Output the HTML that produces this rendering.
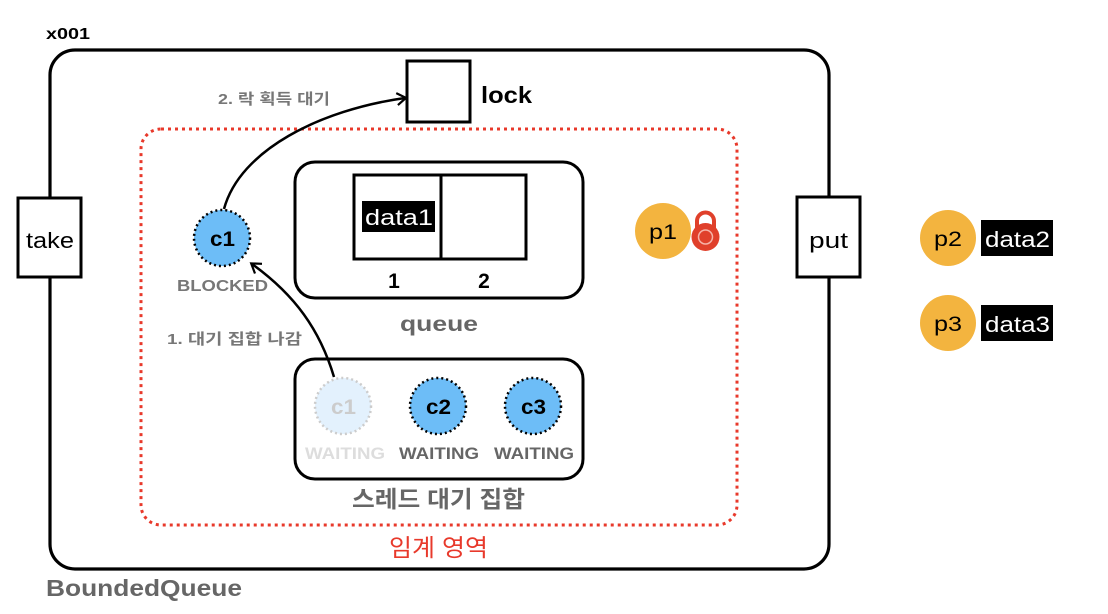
<!DOCTYPE html>
<html><head><meta charset="utf-8"><style>
html,body{margin:0;padding:0;background:#fff;}
svg{display:block;}
text{font-family:"Liberation Sans","Noto Sans CJK KR",sans-serif;}
</style></head><body>
<svg width="1108" height="614" viewBox="0 0 1108 614" xmlns="http://www.w3.org/2000/svg">
<defs>
<marker id="ah" markerWidth="14" markerHeight="14" refX="10" refY="7" orient="auto" markerUnits="userSpaceOnUse">
<path d="M2,1 L11,7 L2,13" fill="none" stroke="#000" stroke-width="2.2"/>
</marker>
</defs>
<text x="46" y="39" font-size="16" font-weight="bold" textLength="44" lengthAdjust="spacingAndGlyphs">x001</text>
<rect x="50" y="50" width="779" height="519" rx="25" fill="none" stroke="#000" stroke-width="3.2"/>
<text x="46" y="596" font-size="23" font-weight="bold" fill="#666" textLength="196" lengthAdjust="spacingAndGlyphs">BoundedQueue</text>

<rect x="407" y="61" width="63" height="61" fill="#fff" stroke="#000" stroke-width="3"/>
<text x="481" y="103" font-size="23" font-weight="bold" textLength="51" lengthAdjust="spacingAndGlyphs">lock</text>

<rect x="141" y="129" width="596" height="396" rx="20" fill="none" stroke="#e8392b" stroke-width="3" stroke-dasharray="3 4"/>

<rect x="295" y="162" width="288" height="136" rx="20" fill="none" stroke="#000" stroke-width="3"/>
<rect x="354" y="175" width="172" height="84" fill="none" stroke="#000" stroke-width="3"/>
<line x1="441" y1="175" x2="441" y2="259" stroke="#000" stroke-width="3"/>
<rect x="362" y="201" width="73" height="31" fill="#000"/>
<text x="365" y="225" font-size="22" fill="#fff" textLength="68" lengthAdjust="spacingAndGlyphs">data1</text>
<text x="394" y="288" font-size="21" font-weight="bold" text-anchor="middle">1</text>
<text x="484" y="288" font-size="21" font-weight="bold" text-anchor="middle">2</text>
<text x="400" y="331" font-size="21" font-weight="bold" fill="#666" textLength="78" lengthAdjust="spacingAndGlyphs">queue</text>

<circle cx="222" cy="238" r="28" fill="#6dbdf7" stroke="#000" stroke-width="2.5" stroke-dasharray="2 3"/>
<text x="210" y="246" font-size="21" font-weight="bold" textLength="25" lengthAdjust="spacingAndGlyphs">c1</text>
<text x="177" y="291" font-size="16" font-weight="bold" fill="#777" textLength="91" lengthAdjust="spacingAndGlyphs">BLOCKED</text>

<path d="M224,209 C240,150 320,110 405,98" fill="none" stroke="#000" stroke-width="2.5" marker-end="url(#ah)"/>
<text x="218" y="104" font-size="15" font-weight="bold" fill="#777" textLength="112" lengthAdjust="spacingAndGlyphs">2. 락 획득 대기</text>
<path d="M334,377 C320,330 295,295 252,264" fill="none" stroke="#000" stroke-width="2.5" marker-end="url(#ah)"/>
<text x="167" y="344" font-size="15" font-weight="bold" fill="#777" textLength="135" lengthAdjust="spacingAndGlyphs">1.  대기 집합 나감</text>

<rect x="295" y="359" width="288" height="120" rx="20" fill="none" stroke="#000" stroke-width="3"/>
<circle cx="343" cy="406" r="28" fill="#e3f1fd" stroke="#ccc" stroke-width="2.5" stroke-dasharray="2 3"/>
<text x="331" y="414" font-size="21" font-weight="bold" fill="#ccc" textLength="25" lengthAdjust="spacingAndGlyphs">c1</text>
<circle cx="438" cy="406" r="28" fill="#6dbdf7" stroke="#000" stroke-width="2.5" stroke-dasharray="2 3"/>
<text x="426" y="414" font-size="21" font-weight="bold" textLength="25" lengthAdjust="spacingAndGlyphs">c2</text>
<circle cx="533" cy="406" r="28" fill="#6dbdf7" stroke="#000" stroke-width="2.5" stroke-dasharray="2 3"/>
<text x="521" y="414" font-size="21" font-weight="bold" textLength="25" lengthAdjust="spacingAndGlyphs">c3</text>
<text x="305" y="459" font-size="17" font-weight="bold" fill="#ddd" textLength="80" lengthAdjust="spacingAndGlyphs">WAITING</text>
<text x="399" y="459" font-size="17" font-weight="bold" fill="#666" textLength="80" lengthAdjust="spacingAndGlyphs">WAITING</text>
<text x="494" y="459" font-size="17" font-weight="bold" fill="#666" textLength="80" lengthAdjust="spacingAndGlyphs">WAITING</text>
<text x="352" y="507" font-size="23" font-weight="bold" fill="#666" textLength="173" lengthAdjust="spacingAndGlyphs">스레드 대기 집합</text>
<text x="389" y="556" font-size="24" fill="#e8392b" textLength="99" lengthAdjust="spacingAndGlyphs">임계 영역</text>

<rect x="18" y="198" width="63" height="79" fill="#fff" stroke="#000" stroke-width="3"/>
<text x="26" y="248" font-size="22" textLength="48" lengthAdjust="spacingAndGlyphs">take</text>
<rect x="797" y="197" width="63" height="80" fill="#fff" stroke="#000" stroke-width="3"/>
<text x="809" y="248" font-size="22" textLength="39" lengthAdjust="spacingAndGlyphs">put</text>

<circle cx="663" cy="231" r="28" fill="#f3b43f"/>
<text x="649" y="239" font-size="21" textLength="28" lengthAdjust="spacingAndGlyphs">p1</text>
<path d="M697,228 V221 a8.5,8.5 0 0 1 17,0 V228" fill="none" stroke="#e0402b" stroke-width="4"/>
<circle cx="705.5" cy="237" r="14" fill="#e0402b"/>
<circle cx="705.5" cy="237" r="7" fill="none" stroke="#f6b3a8" stroke-width="1.5"/>

<circle cx="948" cy="238" r="28" fill="#f3b43f"/>
<text x="934" y="246" font-size="21" textLength="28" lengthAdjust="spacingAndGlyphs">p2</text>
<rect x="981" y="220" width="72" height="36" fill="#000"/>
<text x="985" y="247" font-size="22" fill="#fff" textLength="65" lengthAdjust="spacingAndGlyphs">data2</text>
<circle cx="948" cy="323" r="28" fill="#f3b43f"/>
<text x="934" y="331" font-size="21" textLength="28" lengthAdjust="spacingAndGlyphs">p3</text>
<rect x="981" y="305" width="72" height="36" fill="#000"/>
<text x="985" y="332" font-size="22" fill="#fff" textLength="65" lengthAdjust="spacingAndGlyphs">data3</text>
</svg>
</body></html>
